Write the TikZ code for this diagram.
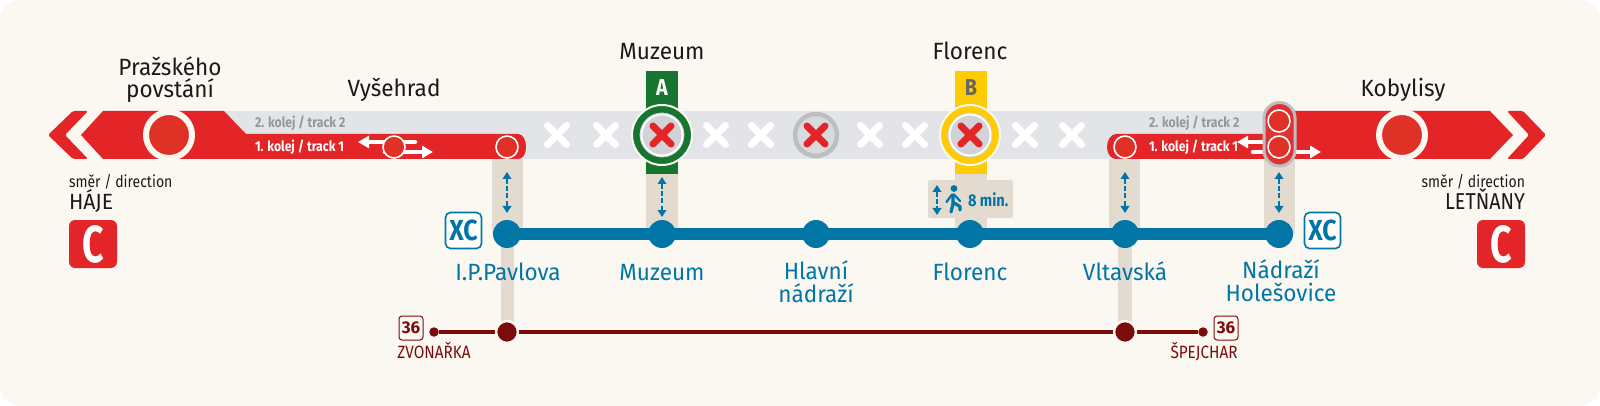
\documentclass[tikz,border=0pt]{standalone}
\usepackage{fontspec}
\setmainfont{Fira Sans}
\newfontfamily\narrow[FakeStretch=0.86]{Fira Sans}
\newfontfamily\slim[FakeStretch=0.96]{Fira Sans}
\newfontfamily\tall[FakeStretch=0.72]{Fira Sans}
\usetikzlibrary{arrows.meta}
\definecolor{cream}{HTML}{FBF8F2}
\definecolor{band}{HTML}{E3E4E8}
\definecolor{metroC}{HTML}{E42528}
\definecolor{stopred}{HTML}{E03127}
\definecolor{beige}{HTML}{E3DBD0}
\definecolor{tramblue}{HTML}{0075A6}
\definecolor{tram}{HTML}{7A0C0C}
\definecolor{metroA}{HTML}{16752F}
\definecolor{metroB}{HTML}{FFCB05}
\definecolor{greytxt}{HTML}{96979B}
\definecolor{ringgrey}{HTML}{BDBEC0}
\definecolor{innergrey}{HTML}{D1D3D6}
\definecolor{ink}{HTML}{1A1A1A}
\newcommand{\fs}[1]{\fontsize{#1}{#1}\selectfont}
\tikzset{
  lbl/.style={inner sep=0pt,outer sep=0pt,anchor=base},
  stname/.style={lbl,font=\slim\fontsize{23.5}{22}\selectfont,text=ink,align=center},
  blname/.style={lbl,font=\slim\fontsize{23.5}{22.5}\selectfont,text=tramblue,align=center},
  trk/.style={lbl,font=\narrow\fontsize{14.2}{14.2}\selectfont\bfseries,anchor=base west},
  bluestop/.style={circle,fill=tramblue,minimum size=28pt,inner sep=0pt,outer sep=0pt},
  tramstop/.style={circle,fill=tram,draw=cream,line width=2.5pt,minimum size=22pt,inner sep=0pt,outer sep=1.2pt},
  tramend/.style={circle,fill=tram,minimum size=9.5pt,inner sep=0pt,outer sep=0pt},
  smallstop/.style={circle,fill=stopred,draw=white,line width=1.6pt,minimum size=22pt,inner sep=0pt},
  bigstop/.style={circle,fill=stopred,draw=cream,line width=6pt,minimum size=46pt,inner sep=0pt},
  xoff/.style={draw=white,line width=7pt,line cap=round},
  xred/.style={draw=metroC,line width=7pt,line cap=round},
  linebox/.style={draw=tramblue,line width=1.6pt,rounded corners=5pt,fill=white,minimum width=36pt,minimum height=36pt,inner sep=0pt,font=\narrow\fontsize{29}{29}\selectfont\bfseries,text=tramblue},
  cbox/.style={fill=metroC,rounded corners=6pt,minimum width=48pt,minimum height=48pt,inner sep=0pt,text=white,font=\tall\fontsize{52}{52}\selectfont\bfseries},
  tbox/.style={draw=tram,line width=1pt,rounded corners=3pt,minimum width=24pt,minimum height=24pt,inner sep=0pt,text=tram,fill=cream,font=\fontsize{17}{17}\selectfont\bfseries},
  walk/.style={tramblue,line width=2.4pt,dash pattern=on 5pt off 2.4pt,{Triangle[width=8.5pt,length=7pt]}-{Triangle[width=8.5pt,length=7pt]}},
  whitearrow/.style={white,line width=4.5pt,-{Triangle[width=12pt,length=11pt]}},
  pillar/.style={fill=beige},
}
\begin{document}
\begin{tikzpicture}[x=1pt,y=-1pt]
\useasboundingbox (0,0) rectangle (1600,406);
\fill[white] (0,0) rectangle (1600,406);
\fill[cream,rounded corners=20pt] (0,0) rectangle (1600,406);
% pillars
\fill[pillar] (492,159) rectangle (523,234);
\fill[pillar] (501,234) rectangle (514,332);
\fill[pillar] (646,174) rectangle (678,234);
\fill[pillar] (955,174) rectangle (987,234);
\fill[pillar] (1109,159) rectangle (1140,234);
\fill[pillar] (1118,234) rectangle (1132,332);
\fill[pillar] (1264,159) rectangle (1295,234);
\fill[pillar,rounded corners=2pt] (928,180) rectangle (1013,218);
% grey band
\fill[band] (224,111) rectangle (1285,159);
% metro A and B bars
\fill[metroA] (646,71) rectangle (678,174);
\fill[metroB] (955,71) rectangle (987,174);
% left red
\fill[metroC,rounded corners=1.5pt] (48,135) -- (73,111) -- (88,111) -- (65,135) -- (88,159) -- (73,159) -- cycle;
\path[fill=metroC] (81,135) -- (103,111) -- (224,111) -- (246,134) -- (518,134)
   .. controls (523,134) and (526,140) .. (526,147) .. controls (526,154) and (523,159) .. (518,159) -- (103,159) -- cycle;
% right track 1 and red
\path[fill=metroC] (1280,134) -- (1116,134) .. controls (1111,134) and (1107,140) .. (1107,147) .. controls (1107,154) and (1111,159) .. (1116,159) -- (1280,159) -- cycle;
\fill[metroC] (1280,111) -- (1490,111) -- (1513,135) -- (1490,159) -- (1280,159) -- cycle;
\fill[metroC,rounded corners=1.5pt] (1507,111) -- (1523,111) -- (1546,135) -- (1523,159) -- (1507,159) -- (1529,135) -- cycle;
% white x marks
\foreach \px in {557,606,716,761,870,915,1025,1072}{
  \draw[xoff] (\px-9.5,135-9.5) -- (\px+9.5,135+9.5) (\px-9.5,135+9.5) -- (\px+9.5,135-9.5);
}
% big stops
\node[bigstop] (pp) at (169,135) {};
\node[bigstop] (kob) at (1402,135) {};
% track labels
\node[trk,text=greytxt] (t2l) at (255,128) {2. kolej / track 2};
\node[trk,text=white] (t1l) at (255,152) {1. kolej / track 1};
\node[trk,text=greytxt] (t2r) at (1149,128) {2. kolej / track 2};
\node[trk,text=white] (t1r) at (1149,152) {1. kolej / track 1};
% Vysehrad arrows
\coordinate (va1) at (415,142); \coordinate (va2) at (358,142);
\coordinate (vb1) at (385,152); \coordinate (vb2) at (433,152);
\draw[whitearrow,line cap=round] (va1) -- (va2);
\draw[whitearrow,line cap=round] (vb1) -- (vb2);
\node[smallstop] (vys) at (394,147) {};
\node[smallstop] (ipm) at (507,147) {};
\node[smallstop] (vlm) at (1125,147) {};
% Holesovice arrows
\coordinate (ha1) at (1270,142); \coordinate (ha2) at (1237,142);
\coordinate (hb1) at (1253,152); \coordinate (hb2) at (1321,152);
\draw[whitearrow] (ha1) -- (ha2);
\draw[whitearrow,line cap=round] (hb1) -- (hb2);
\fill[metroC!95!white,draw=ringgrey,line width=3pt,rounded corners=15.5pt] (1264,102.5) rectangle (1295,166);
\node[smallstop] (h2) at (1279,121) {};
\node[smallstop] (h1) at (1279,147) {};
% Muzeum
\node[circle,fill=innergrey,draw=metroA,line width=7pt,minimum size=52pt,inner sep=0pt] (mA) at (662,135) {};
\draw[white,line width=1.8pt] (mA.center) circle (20.5pt);
\draw[cream,line width=2pt] (mA.center) circle (30pt);
\draw[xred] ([xshift=-9pt,yshift=-9pt]mA.center) -- ([xshift=9pt,yshift=9pt]mA.center) ([xshift=-9pt,yshift=9pt]mA.center) -- ([xshift=9pt,yshift=-9pt]mA.center);
% Hlavni
\node[circle,fill=innergrey!60!band,draw=ringgrey,line width=4.5pt,minimum size=42pt,inner sep=0pt] (mH) at (816,135) {};
\draw[xred] ([xshift=-9pt,yshift=-9pt]mH.center) -- ([xshift=9pt,yshift=9pt]mH.center) ([xshift=-9pt,yshift=9pt]mH.center) -- ([xshift=9pt,yshift=-9pt]mH.center);
% Florenc
\node[circle,fill=innergrey,draw=metroB,line width=7pt,minimum size=52pt,inner sep=0pt] (mB) at (970,135) {};
\draw[white,line width=1.8pt] (mB.center) circle (20.5pt);
\draw[cream,line width=2pt] (mB.center) circle (30pt);
\draw[xred] ([xshift=-9pt,yshift=-9pt]mB.center) -- ([xshift=9pt,yshift=9pt]mB.center) ([xshift=-9pt,yshift=9pt]mB.center) -- ([xshift=9pt,yshift=-9pt]mB.center);
\node[lbl,text=white,font=\narrow\fontsize{23}{23}\selectfont\bfseries] (la) at (662,96) {A};
\node[lbl,text=black!60,font=\narrow\fontsize{23}{23}\selectfont\bfseries] (lb) at (971,96) {B};
% top names
\node[stname] (n1) at (170,98) {Pražského\\povstání};
\node[stname] (n2) at (394,97) {Vyšehrad};
\node[stname] (n3) at (662,60) {Muzeum};
\node[stname] (n4) at (970,60) {Florenc};
\node[stname] (n5) at (1403,97) {Kobylisy};
% directions
\node[lbl,anchor=base west,text=ink,font=\narrow\fs{16.3}] (d1) at (69,188) {směr / direction};
\node[lbl,anchor=base west,text=ink,font=\slim\fs{22}] (d2) at (69,210) {HÁJE};
\node[lbl,anchor=base east,text=ink,font=\narrow\fs{16.3}] (d3) at (1525,188) {směr / direction};
\node[lbl,anchor=base east,text=ink,font=\narrow\fs{23}] (d4) at (1525,210) {LETŇANY};
\node[cbox] (c1) at (93,244) {C};
\node[cbox] (c2) at (1501,244) {C};
% blue line
\node[bluestop] (b1) at (507,234) {};
\node[bluestop] (b2) at (662,234) {};
\node[bluestop] (b3) at (816,234) {};
\node[bluestop] (b4) at (970,234) {};
\node[bluestop] (b5) at (1125,234) {};
\node[bluestop] (b6) at (1279,234) {};
\draw[tramblue,line width=11.5pt] (b1.center) -- (b6.center);
\node[linebox] (x1) at (463.5,230.5) {XC};
\node[linebox] (x2) at (1322.5,230.5) {XC};
\node[blname] (s1) at (508,280) {I.P.Pavlova};
\node[blname] (s2) at (662,280) {Muzeum};
\node[blname] (s3) at (816,302) {Hlavní\\nádraží};
\node[blname] (s4) at (970,280) {Florenc};
\node[blname] (s5) at (1125,280) {Vltavská};
\node[blname] (s6) at (1281,301) {Nádraží\\Holešovice};
% walking arrows
\coordinate (w1a) at (507,172); \coordinate (w1b) at (507,213);
\coordinate (w2a) at (662,177); \coordinate (w2b) at (662,217);
\coordinate (w3a) at (1125,172); \coordinate (w3b) at (1125,213);
\coordinate (w4a) at (1279,172); \coordinate (w4b) at (1279,213);
\coordinate (w5a) at (937,185); \coordinate (w5b) at (937,215);
\draw[walk] (w1a) -- (w1b);
\draw[walk] (w2a) -- (w2b);
\draw[walk] (w3a) -- (w3b);
\draw[walk] (w4a) -- (w4b);
\draw[walk] (w5a) -- (w5b);
% walker
\fill[tramblue] (954,188.5) circle (3.4pt);
\draw[tramblue,line width=3.2pt,line cap=round,line join=round] (953,195) -- (953,204) -- (951,212) (954,203) -- (960,206.5) -- (960,210);
\draw[tramblue,line width=2.2pt,line cap=round,line join=round] (952,194.5) -- (946.5,202) (954,194.5) -- (960,201);
\node[lbl,anchor=base west,text=tramblue,font=\narrow\fontsize{17}{17}\selectfont\bfseries] (wm) at (968,207) {8 min.};
% tram line
\node[tramend] (z) at (434,332) {};
\node[tramstop] (zb) at (507,332) {};
\node[tramstop] (vb) at (1125,332) {};
\node[tramend] (sp) at (1203,332) {};
\draw[tram,line width=3.6pt] (z) -- (zb);
\draw[tram,line width=3.6pt] (zb) -- (vb);
\draw[tram,line width=3.6pt] (vb) -- (sp);
\node[tbox] (t1) at (411,328) {36};
\node[tbox] (t2) at (1226,328) {36};
\node[lbl,text=tram,font=\narrow\fs{17.8}] (zn) at (434,358) {ZVONAŘKA};
\node[lbl,text=tram,font=\narrow\fs{17.8}] (sn) at (1204,358) {ŠPEJCHAR};
\end{tikzpicture}
\end{document}
